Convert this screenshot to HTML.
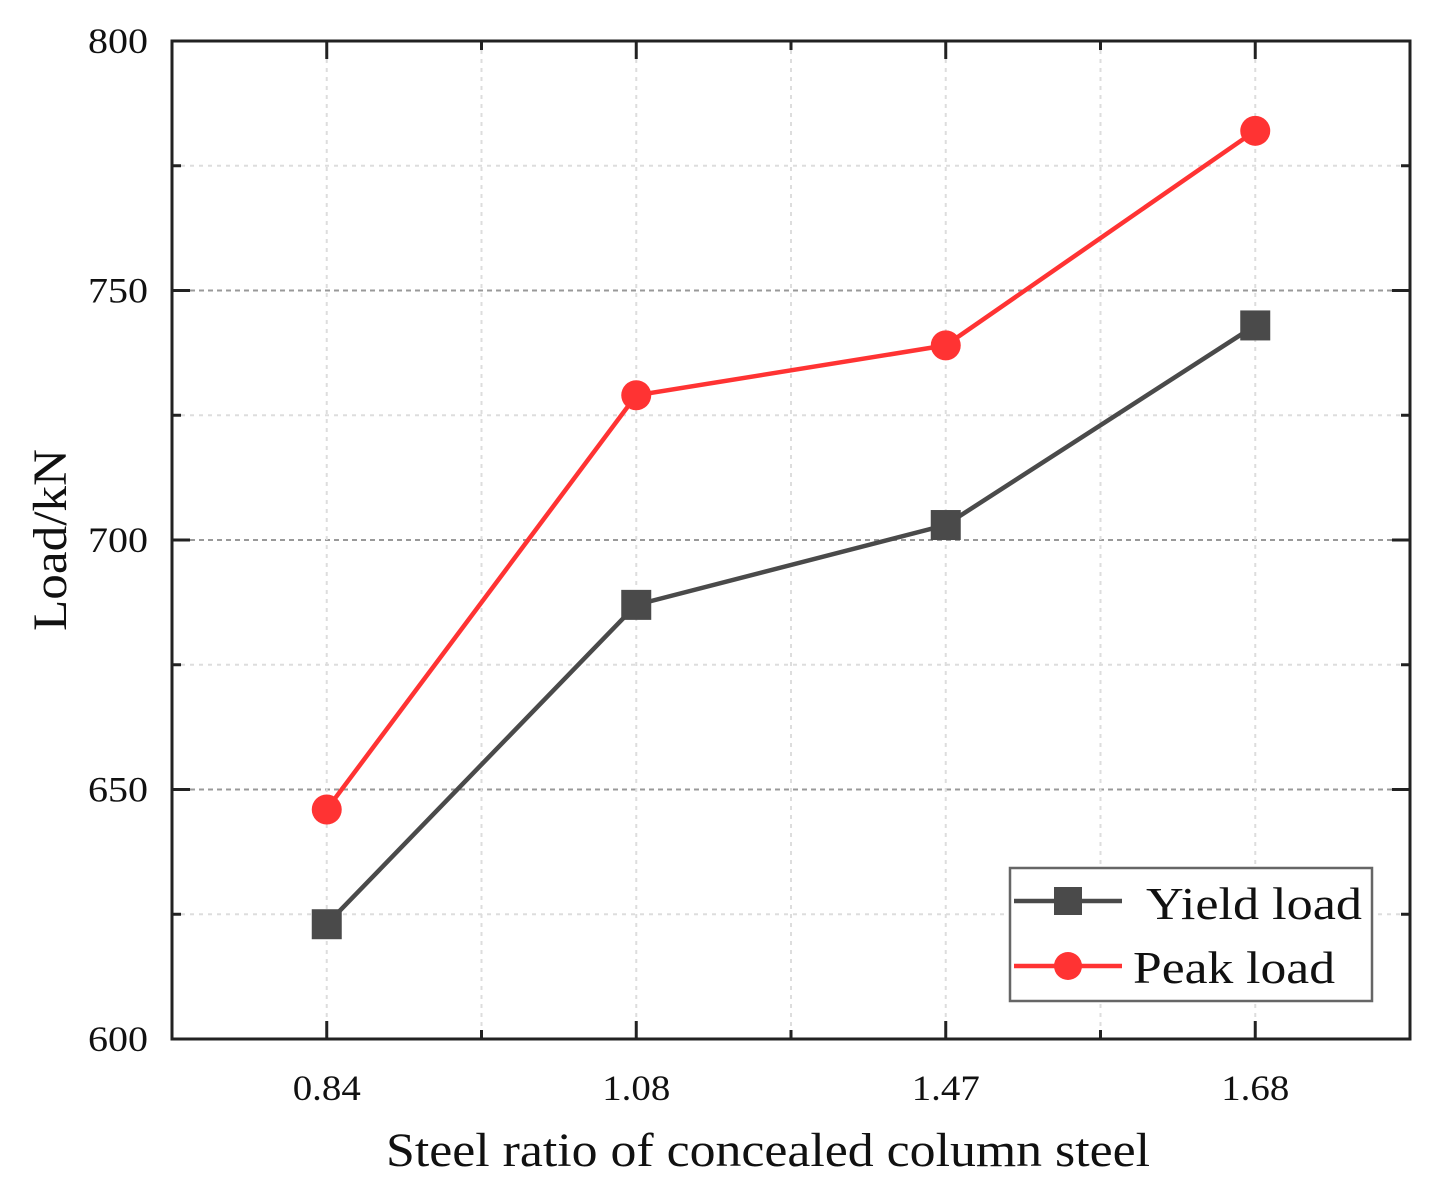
<!DOCTYPE html>
<html><head><meta charset="utf-8"><style>
html,body{margin:0;padding:0;background:#fff;}
svg{display:block;font-family:"Liberation Serif",serif;}
</style></head><body>
<svg id="chart" width="1443" height="1197" viewBox="0 0 1443 1197" xmlns="http://www.w3.org/2000/svg"></svg>
<script>
const categories = ["0.84","1.08","1.47","1.68"];
const yieldLoad = [623, 687, 703, 743];
const peakLoad = [646, 729, 739, 782];
const yTicks = [600, 650, 700, 750, 800];
const yMinorTicks = [625, 675, 725, 775];

const L=172,R=1410,T=41,B=1039;
const yMin=600,yMax=800;
const sy=v=>B-(v-yMin)/(yMax-yMin)*(B-T);
const sx=i=>L+(i+0.5)/categories.length*(R-L);
const NS="http://www.w3.org/2000/svg";
const svg=document.getElementById('chart');
function mk(tag,attrs,parent){const e=document.createElementNS(NS,tag);for(const k in attrs)e.setAttribute(k,attrs[k]);(parent||svg).appendChild(e);return e;}

const grid=mk('g',{});


yTicks.slice(1,-1).forEach(v=>{mk('line',{x1:L,x2:R,y1:sy(v),y2:sy(v),stroke:'#999','stroke-width':2,'stroke-dasharray':'5,4'},grid);});
yMinorTicks.forEach(v=>{mk('line',{x1:L,x2:R,y1:sy(v),y2:sy(v),stroke:'#ddd','stroke-width':2,'stroke-dasharray':'4,5'},grid);});
for(let i=0;i<categories.length;i++){
  mk('line',{x1:sx(i),x2:sx(i),y1:T,y2:B,stroke:'#ddd','stroke-width':2,'stroke-dasharray':'4,5'},grid);
  if(i<categories.length-1){const m=(sx(i)+sx(i+1))/2;mk('line',{x1:m,x2:m,y1:T,y2:B,stroke:'#ddd','stroke-width':2,'stroke-dasharray':'4,5'},grid);}
}

const ax=mk('g',{stroke:'#222','stroke-width':3});


mk('rect',{x:L,y:T,width:R-L,height:B-T,fill:'none'},ax);
yTicks.forEach(v=>{mk('line',{x1:L,x2:L+18,y1:sy(v),y2:sy(v)},ax);mk('line',{x1:R,x2:R-18,y1:sy(v),y2:sy(v)},ax);});
yMinorTicks.forEach(v=>{mk('line',{x1:L,x2:L+9,y1:sy(v),y2:sy(v)},ax);mk('line',{x1:R,x2:R-9,y1:sy(v),y2:sy(v)},ax);});
for(let i=0;i<categories.length;i++){
  mk('line',{x1:sx(i),x2:sx(i),y1:B,y2:B-18},ax);mk('line',{x1:sx(i),x2:sx(i),y1:T,y2:T+18},ax);
  if(i<categories.length-1){const m=(sx(i)+sx(i+1))/2;mk('line',{x1:m,x2:m,y1:B,y2:B-9},ax);mk('line',{x1:m,x2:m,y1:T,y2:T+9},ax);}
}

yTicks.forEach(v=>{const t=mk('text',{x:L-24,y:sy(v)+12,'text-anchor':'end','font-size':36,fill:'#111',textLength:60,lengthAdjust:'spacingAndGlyphs'});t.textContent=v;

});
categories.forEach((c,i)=>{const t=mk('text',{x:sx(i),y:1100,'text-anchor':'middle','font-size':36,fill:'#111',textLength:68,lengthAdjust:'spacingAndGlyphs'});t.textContent=c;

});

const xt=mk('text',{x:768,y:1166,'text-anchor':'middle','font-size':48,fill:'#111',textLength:764,lengthAdjust:'spacingAndGlyphs'});xt.textContent='Steel ratio of concealed column steel';


const yt=mk('text',{x:0,y:0,'text-anchor':'middle','font-size':48,fill:'#111',textLength:182,lengthAdjust:'spacingAndGlyphs',transform:'translate(66,540) rotate(-90)'});yt.textContent='Load/kN';



function series(vals,color,shape,name){
  const g=mk('g',{});
  
  
  mk('polyline',{points:vals.map((v,i)=>sx(i)+','+sy(v)).join(' '),fill:'none',stroke:color,'stroke-width':4.5},g);
  vals.forEach((v,i)=>{
    let m;
    if(shape==='square')m=mk('rect',{x:sx(i)-15,y:sy(v)-15,width:30,height:30,fill:color},g);
    else m=mk('circle',{cx:sx(i),cy:sy(v),r:15,fill:color},g);
    
    
  });
}
series(yieldLoad,'#4a4a4a','square','yield-load-series');
series(peakLoad,'#ff3333','circle','peak-load-series');

const lg=mk('g',{});


mk('rect',{x:1010,y:868,width:362,height:133,fill:'#fff',stroke:'#666','stroke-width':2.5},lg);
mk('line',{x1:1014,x2:1122,y1:901,y2:901,stroke:'#4a4a4a','stroke-width':4.5},lg);
mk('rect',{x:1054,y:887,width:28,height:28,fill:'#4a4a4a'},lg);
mk('line',{x1:1014,x2:1122,y1:966,y2:966,stroke:'#ff3333','stroke-width':4.5},lg);
mk('circle',{cx:1068,cy:966,r:14,fill:'#ff3333'},lg);
const l1=mk('text',{x:1146,y:919,'font-size':46,fill:'#111',textLength:216,lengthAdjust:'spacingAndGlyphs'},lg);l1.textContent='Yield load';


const l2=mk('text',{x:1133,y:983,'font-size':46,fill:'#111',textLength:202,lengthAdjust:'spacingAndGlyphs'},lg);l2.textContent='Peak load';


</script>
</body></html>
